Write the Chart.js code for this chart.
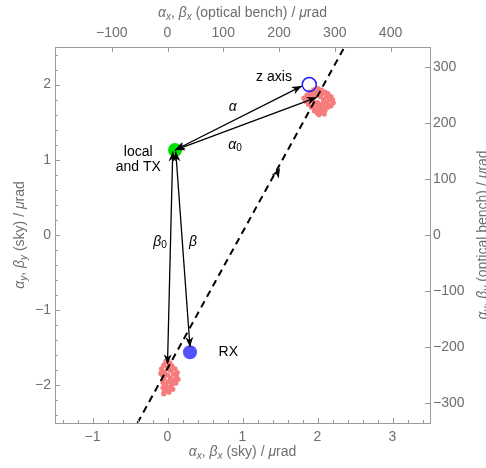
<!DOCTYPE html>
<html>
<head>
<meta charset="utf-8">
<script src="https://cdn.jsdelivr.net/npm/chart.js@4.4.1/dist/chart.umd.min.js"></script>
<style>
  html, body { margin: 0; padding: 0; background: #ffffff; }
  #wrap { width: 486px; height: 468px; }
</style>
</head>
<body>
<div id="wrap"><canvas id="c" width="486" height="468"></canvas></div>
<script>
// Optical bench angle per sky angle (both in µrad)
const benchPerSky = 134.5;

// Axis tick values
const xTicksSky = [-1, 0, 1, 2, 3];
const yTicksSky = [-2, -1, 0, 1, 2];
const xTicksBench = [-100, 0, 100, 200, 300, 400];
const yTicksBench = [-300, -200, -100, 0, 100, 200, 300];
const xMinorSky = [-1.4,-1.2,-0.8,-0.6,-0.4,-0.2,0.2,0.4,0.6,0.8,1.2,1.4,1.6,1.8,2.2,2.4,2.6,2.8,3.2,3.4];
const yMinorSky = [-2.4,-2.2,-1.8,-1.6,-1.4,-1.2,-0.8,-0.6,-0.4,-0.2,0.2,0.4,0.6,0.8,1.2,1.4,1.6,1.8,2.2,2.4];

// Beam directions (sky, µrad)
const localTX = [{x: 0.10, y: 1.13}];
const rxBeam = [{x: 0.30, y: -1.56}];
const zAxisDir = [{x: 1.89, y: 2.00}];

// Spot of the received beam samples
const spotUpper = [
  [1.86,1.86],[1.90,1.90],[1.95,1.93],[2.00,1.95],[2.05,1.93],[2.10,1.90],[2.14,1.88],[2.18,1.84],
  [2.20,1.80],[2.21,1.76],[2.18,1.72],[2.14,1.70],[2.10,1.66],[2.05,1.63],[2.00,1.62],[1.96,1.65],
  [1.92,1.70],[1.88,1.74],[1.84,1.78],[1.82,1.82],[1.90,1.80],[1.95,1.84],[2.00,1.88],[2.04,1.84],
  [2.08,1.80],[2.12,1.76],[2.06,1.74],[2.00,1.76],[1.96,1.74],[1.94,1.78],[2.02,1.70],[2.08,1.70],
  [2.04,1.66],[1.98,1.68],[1.88,1.84],[2.16,1.80],[2.12,1.84],[2.06,1.88],[1.92,1.88],[2.02,1.60],
  [2.09,1.61],[1.98,1.90],[1.86,1.80],[2.15,1.73]
];
const spotLower = [
  [-0.02,-1.68],[0.03,-1.70],[-0.05,-1.73],[0.06,-1.74],[0.00,-1.76],[-0.08,-1.78],[0.10,-1.78],
  [0.04,-1.80],[-0.04,-1.82],[0.13,-1.83],[0.08,-1.85],[-0.07,-1.86],[0.00,-1.86],[0.12,-1.88],
  [0.04,-1.90],[-0.05,-1.91],[0.09,-1.93],[0.01,-1.95],[-0.06,-1.96],[0.06,-1.98],[-0.02,-2.00],
  [0.04,-2.02],[-0.06,-2.03],[0.00,-2.05],[-0.04,-2.08],[0.02,-2.09],[-0.05,-2.11],[0.14,-1.92],
  [0.11,-1.97],[-0.09,-1.84],[0.07,-2.05],[-0.03,-1.87],[0.05,-1.93]
];

// Point-ahead line and the arrowhead on it
const aheadLine = [{x: -0.40, y: -2.5}, {x: 2.36, y: 2.5}];
const aheadArrowTip = [1.50, 0.89];

// Double-headed arrows: [start, end]
const arrowAlpha  = [[0.10, 1.13], [1.79, 1.98]];
const arrowAlpha0 = [[0.10, 1.13], [1.99, 1.83]];
const arrowBeta0  = [[0.07, 1.11], [0.00, -1.72]];
const arrowBeta   = [[0.11, 1.11], [0.30, -1.49]];

// In-plot labels: text segments and anchor (sky units)
const FONT = '"Liberation Sans", Arial, Helvetica, sans-serif';
const labels = [
  { at: [1.42, 2.10], segs: [{t: 'z axis'}] },
  { at: [0.87, 1.70], segs: [{t: 'α', i: true}] },
  { at: [0.90, 1.20], segs: [{t: 'α', i: true}, {t: '0', s: true}] },
  { at: [-0.39, 1.10], segs: [{t: 'local'}] },
  { at: [-0.39, 0.90], segs: [{t: 'and TX'}] },
  { at: [-0.10, -0.09], segs: [{t: 'β', i: true}, {t: '0', s: true}] },
  { at: [0.34, -0.09], segs: [{t: 'β', i: true}] },
  { at: [0.81, -1.56], segs: [{t: 'RX'}] }
];

function axisTitle(sub, kind) {
  return [
    {t: 'α', i: true}, {t: sub, i: true, s: true}, {t: ', '},
    {t: 'β', i: true}, {t: sub, i: true, s: true}, {t: ' (' + kind + ') / '},
    {t: 'μ', i: true}, {t: 'rad'}
  ];
}

function segFont(seg, size) {
  const sz = seg.s ? size * 0.72 : size;
  return (seg.i ? 'italic ' : '') + sz + 'px ' + FONT;
}

function drawRich(ctx, segs, x, y, size, color, angle) {
  ctx.save();
  ctx.translate(x, y);
  if (angle) ctx.rotate(angle);
  let total = 0;
  segs.forEach(sg => { ctx.font = segFont(sg, size); total += ctx.measureText(sg.t).width; });
  let cx = -total / 2;
  ctx.fillStyle = color;
  ctx.textBaseline = 'middle';
  ctx.textAlign = 'left';
  segs.forEach(sg => {
    ctx.font = segFont(sg, size);
    ctx.fillText(sg.t, cx, sg.s ? size * 0.28 : 0);
    cx += ctx.measureText(sg.t).width;
  });
  ctx.restore();
}

function arrowHead(ctx, x0, y0, x1, y1) {
  const a = Math.atan2(y1 - y0, x1 - x0);
  const L = 10, W = 4, N = 7;
  ctx.save();
  ctx.translate(x1, y1);
  ctx.rotate(a);
  ctx.beginPath();
  ctx.moveTo(0, 0);
  ctx.lineTo(-L, -W);
  ctx.lineTo(-N, 0);
  ctx.lineTo(-L, W);
  ctx.closePath();
  ctx.fill();
  ctx.restore();
}

const annotations = {
  id: 'annotations',
  afterDatasetsDraw(chart) {
    const ctx = chart.ctx;
    const xs = chart.scales.x, ys = chart.scales.y;
    const px = v => xs.getPixelForValue(v), py = v => ys.getPixelForValue(v);
    ctx.save();
    ctx.strokeStyle = '#000';
    ctx.fillStyle = '#000';
    ctx.lineWidth = 1.3;
    [arrowAlpha, arrowAlpha0, arrowBeta0, arrowBeta].forEach(ar => {
      const x0 = px(ar[0][0]), y0 = py(ar[0][1]), x1 = px(ar[1][0]), y1 = py(ar[1][1]);
      ctx.beginPath();
      ctx.moveTo(x0, y0);
      ctx.lineTo(x1, y1);
      ctx.stroke();
      arrowHead(ctx, x0, y0, x1, y1);
      arrowHead(ctx, x1, y1, x0, y0);
    });
    // arrowhead on the point-ahead line
    const a0 = aheadLine[0], a1 = aheadLine[1];
    const tx = px(aheadArrowTip[0]), ty = py(aheadArrowTip[1]);
    const dx = px(a1.x) - px(a0.x), dy = py(a1.y) - py(a0.y);
    arrowHead(ctx, tx - dx, ty - dy, tx, ty);
    ctx.restore();

    labels.forEach(l => drawRich(ctx, l.segs, px(l.at[0]), py(l.at[1]), 14, '#000', 0));
  },
  afterDraw(chart) {
    const ctx = chart.ctx;
    const a = chart.chartArea;
    const xs = chart.scales.x, ys = chart.scales.y, xt = chart.scales.x2, yr = chart.scales.y2;
    ctx.save();
    ctx.strokeStyle = '#9a9a9a';
    ctx.lineWidth = 1;
    ctx.beginPath();
    const tick = (x0, y0, x1, y1) => { ctx.moveTo(x0, y0); ctx.lineTo(x1, y1); };
    xTicksSky.forEach(v => { const x = Math.round(xs.getPixelForValue(v)) + 0.5; tick(x, a.bottom, x, a.bottom - 5); });
    xMinorSky.forEach(v => { const x = Math.round(xs.getPixelForValue(v)) + 0.5; tick(x, a.bottom, x, a.bottom - 3); });
    yTicksSky.forEach(v => { const y = Math.round(ys.getPixelForValue(v)) + 0.5; tick(a.left, y, a.left + 5, y); });
    yMinorSky.forEach(v => { const y = Math.round(ys.getPixelForValue(v)) + 0.5; tick(a.left, y, a.left + 3, y); });
    xTicksBench.forEach(v => { const x = Math.round(xt.getPixelForValue(v)) + 0.5; tick(x, a.top, x, a.top + 5); });
    yTicksBench.forEach(v => { const y = Math.round(yr.getPixelForValue(v)) + 0.5; tick(a.right, y, a.right - 5, y); });
    ctx.stroke();
    ctx.restore();

    const midX = (a.left + a.right) / 2, midY = (a.top + a.bottom) / 2;
    const grey = '#6e6e6e';
    drawRich(ctx, axisTitle('x', 'sky'), midX, 452, 14, grey, 0);
    drawRich(ctx, axisTitle('x', 'optical bench'), midX, 13, 14, grey, 0);
    drawRich(ctx, axisTitle('y', 'sky'), 20, midY, 14, grey, -Math.PI / 2);
    drawRich(ctx, axisTitle('y', 'optical bench'), 483, midY, 14, grey, -Math.PI / 2);
  }
};

function fixedTicks(values) {
  return scale => { scale.ticks = values.map(v => ({ value: v })); };
}
function fixedSize(prop, size) {
  return scale => { scale[prop] = size; };
}
const tickFont = { family: FONT, size: 14 };
const tickColor = '#6e6e6e';
const frame = { display: true, color: '#9a9a9a', width: 1 };
const noGrid = { display: false, drawTicks: false };
const fmt = v => (v < 0 ? '\u2212' + Math.abs(v) : String(v));

new Chart(document.getElementById('c'), {
  type: 'scatter',
  data: {
    datasets: [
      { data: aheadLine, showLine: true, borderColor: '#000', borderWidth: 2, borderDash: [7, 5], pointRadius: 0, fill: false },
      { data: zAxisDir, pointRadius: 7, backgroundColor: 'rgba(0,0,0,0)', borderColor: '#1f1fff', borderWidth: 1.5 },
      { data: rxBeam, pointRadius: 7, backgroundColor: '#5252ff', borderWidth: 0 },
      { data: localTX, pointRadius: 7, backgroundColor: '#00e000', borderWidth: 0 },
      { data: spotUpper.map(p => ({x: p[0], y: p[1]})), pointRadius: 2.6, backgroundColor: '#f67c7c', borderWidth: 0 },
      { data: spotLower.map(p => ({x: p[0], y: p[1]})), pointRadius: 2.6, backgroundColor: '#f67c7c', borderWidth: 0 }
    ]
  },
  options: {
    responsive: false,
    devicePixelRatio: 1,
    animation: false,
    events: [],
    layout: { padding: 0 },
    plugins: { legend: { display: false }, tooltip: { enabled: false } },
    scales: {
      x: {
        type: 'linear', position: 'bottom', min: -1.5, max: 3.5,
        grid: noGrid, border: frame,
        ticks: { font: tickFont, color: tickColor, padding: 6, maxRotation: 0, callback: fmt },
        afterBuildTicks: fixedTicks(xTicksSky), afterFit: fixedSize('height', 45)
      },
      x2: {
        type: 'linear', position: 'top', min: -1.5 * benchPerSky, max: 3.5 * benchPerSky,
        grid: noGrid, border: frame,
        ticks: { font: tickFont, color: tickColor, padding: 5, maxRotation: 0, callback: fmt },
        afterBuildTicks: fixedTicks(xTicksBench), afterFit: fixedSize('height', 47)
      },
      y: {
        type: 'linear', position: 'left', min: -2.5, max: 2.5,
        grid: noGrid, border: frame,
        ticks: { font: tickFont, color: tickColor, padding: 4, callback: fmt },
        afterBuildTicks: fixedTicks(yTicksSky), afterFit: fixedSize('width', 55)
      },
      y2: {
        type: 'linear', position: 'right', min: -2.5 * benchPerSky, max: 2.5 * benchPerSky,
        grid: noGrid, border: frame,
        ticks: { font: tickFont, color: tickColor, padding: 3, callback: fmt },
        afterBuildTicks: fixedTicks(yTicksBench), afterFit: fixedSize('width', 56)
      }
    }
  },
  plugins: [annotations]
});
</script>
</body>
</html>
